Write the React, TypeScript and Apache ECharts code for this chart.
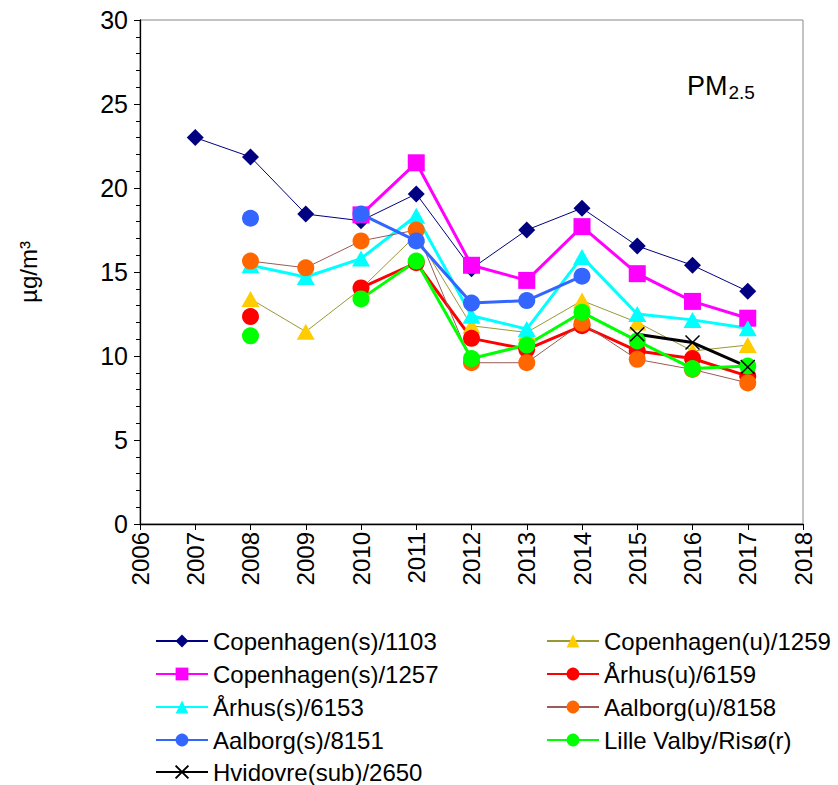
import React, { useEffect, useRef } from "react";
import * as echarts from "echarts";

const years = [2007, 2008, 2009, 2010, 2011, 2012, 2013, 2014, 2015, 2016, 2017];

const cph1103 = [23.0, 21.85, 18.45, 18.05, 19.65, 15.2, 17.5, 18.8, 16.55, 15.4, 13.85];
const cph1259 = [null, 13.4, 11.45, 14.0, 17.2, 11.8, 11.4, 13.3, 12.0, 10.3, 10.65];
const cph1257 = [null, null, null, 18.4, 21.5, 15.4, 14.5, 17.7, 14.9, 13.25, 12.25];
const arh6159 = [null, 12.35, null, 14.05, 15.55, 11.05, 10.4, 11.8, 10.3, 9.85, 8.8];
const arh6153 = [null, 15.4, 14.7, 15.8, 18.35, 12.4, 11.6, 15.9, 12.5, 12.15, 11.65];
const aal8158 = [null, 15.65, 15.25, 16.85, 17.5, 9.6, 9.6, 11.95, 9.8, 9.2, 8.4];
const aal8151 = [null, 18.2, null, 18.45, 16.85, 13.15, 13.3, 14.75, null, null, null];
const lilleValby = [null, 11.2, null, 13.4, 15.65, 9.85, 10.65, 12.6, 10.9, 9.25, 9.4];
const hvidovre = [null, null, null, null, null, null, null, null, 11.3, 10.8, 9.35];

const leftLegend = ["Copenhagen(s)/1103", "Copenhagen(s)/1257", "Århus(s)/6153", "Aalborg(s)/8151"];
const rightLegend = ["Copenhagen(u)/1259", "Århus(u)/6159", "Aalborg(u)/8158", "Lille Valby/Risø(r)"];
const lastLegend = ["Hvidovre(sub)/2650"];

const FONT = "Liberation Sans";

function toData(vals: (number | null)[]) {
  return years.map((y, i) => [y, vals[i] === null ? "-" : vals[i]]);
}

const crossPath = "path://M0,0 L10,10 M10,0 L0,10";

export default function App() {
  const ref = useRef<HTMLDivElement>(null);
  useEffect(() => {
    if (!ref.current) return;
    const chart = echarts.init(ref.current, null, { renderer: "svg" });
    const mk = (
      name: string,
      vals: (number | null)[],
      lineColor: string,
      width: number,
      symbol: string,
      size: number | number[],
      markColor: string,
      extraItem: any = {}
    ) => ({
      name,
      type: "line",
      data: toData(vals),
      connectNulls: false,
      symbol,
      symbolSize: size,
      showSymbol: true,
      lineStyle: { color: lineColor, width },
      itemStyle: { color: markColor, borderWidth: 0, ...extraItem },
      emphasis: { disabled: true },
    });
    const legendBase = {
      orient: "vertical",
      itemWidth: 52,
      itemHeight: 16,
      itemGap: 9,
      padding: 5,
      textStyle: { fontSize: 24, color: "#000", fontFamily: FONT },
    };
    chart.setOption({
      animation: false,
      backgroundColor: "#fff",
      textStyle: { fontFamily: FONT },
      grid: { left: 140, top: 20, width: 663, height: 504, show: true, borderColor: "#888", borderWidth: 1 },
      xAxis: {
        type: "value",
        min: 2006,
        max: 2018,
        interval: 1,
        axisLine: { show: true, lineStyle: { color: "#000", width: 1.3 } },
        axisTick: { show: true, length: 6, inside: false, lineStyle: { color: "#000" } },
        axisLabel: { rotate: 90, fontSize: 24, color: "#000", fontFamily: FONT, margin: 8, formatter: (v: number) => String(v) },
        splitLine: { show: false },
      },
      yAxis: {
        type: "value",
        min: 0,
        max: 30,
        interval: 5,
        name: "µg/m³",
        nameLocation: "middle",
        nameGap: 100,
        nameRotate: 90,
        nameTextStyle: { fontSize: 24, color: "#000", fontFamily: FONT },
        axisLine: { show: true, lineStyle: { color: "#000", width: 1.3 } },
        axisTick: { show: true, length: 6, lineStyle: { color: "#000" } },
        minorTick: { show: true, splitNumber: 5, length: 4, lineStyle: { color: "#000" } },
        axisLabel: { fontSize: 25, color: "#000", fontFamily: FONT, margin: 12 },
        splitLine: { show: false },
      },
      legend: [
        { ...legendBase, left: 150, top: 624, data: leftLegend },
        { ...legendBase, left: 541, top: 624, data: rightLegend },
        { ...legendBase, left: 150, top: 755, data: lastLegend },
      ],
      graphic: [
        {
          type: "text",
          left: 687,
          top: 72,
          style: {
            text: "PM{sub|2.5}",
            fill: "#000",
            font: `27px ${FONT}`,
            rich: { sub: { fontSize: 19, fontFamily: FONT, fill: "#000", verticalAlign: "bottom", padding: [13, 0, 0, 1] } },
          },
        },
      ],
      series: [
        mk("Copenhagen(s)/1103", cph1103, "#000080", 1, "diamond", [17, 17], "#000080"),
        mk("Copenhagen(u)/1259", cph1259, "#999933", 1, "triangle", [18, 16], "#FFCC00"),
        mk("Copenhagen(s)/1257", cph1257, "#FF00FF", 3, "rect", [17, 17], "#FF00FF"),
        mk("Århus(u)/6159", arh6159, "#FF0000", 3, "circle", 17, "#FF0000"),
        mk("Århus(s)/6153", arh6153, "#00FFFF", 3, "triangle", [18, 16], "#00FFFF"),
        mk("Aalborg(u)/8158", aal8158, "#9C5A5A", 1, "circle", 17, "#FF6600"),
        mk("Aalborg(s)/8151", aal8151, "#3366FF", 3, "circle", 17, "#3366FF"),
        mk("Lille Valby/Risø(r)", lilleValby, "#00FF00", 3, "circle", 17, "#00FF00"),
        mk("Hvidovre(sub)/2650", hvidovre, "#000000", 3, crossPath, 14, "#000000", { borderColor: "#000", borderWidth: 1.5 }),
      ],
    });
    return () => chart.dispose();
  }, []);
  return <div ref={ref} style={{ position: "fixed", left: 0, top: 0, width: 838, height: 785 }} />;
}
